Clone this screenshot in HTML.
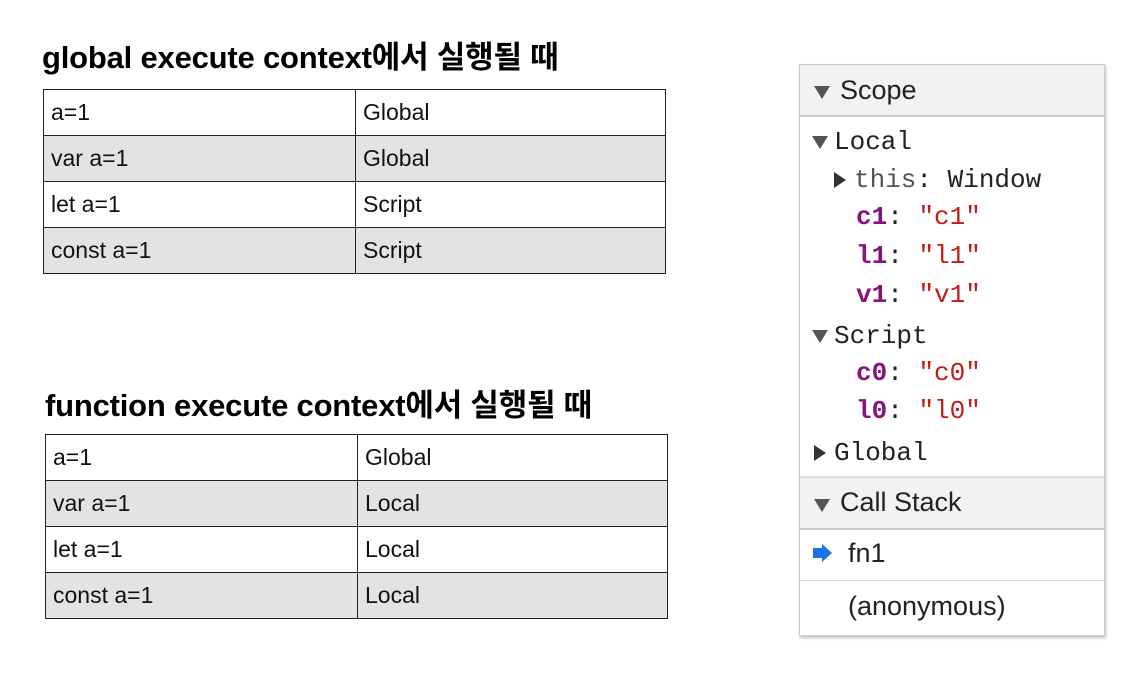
<!DOCTYPE html>
<html><head><meta charset="utf-8"><style>
body{margin:0;width:1132px;height:681px;background:#fff;position:relative;overflow:hidden;font-family:"Liberation Sans","Noto Sans CJK KR",sans-serif;}
.t{position:absolute;font-weight:bold;font-size:31px;color:#000;white-space:nowrap;letter-spacing:-0.2px}
table{position:absolute;border-collapse:collapse;font-size:23px;height:185px}
td{border:1.5px solid #222;padding:0 0 0 7px;color:#111}
tr{height:46px}
tr.g td{background:#e2e3e5}
.p{position:absolute;left:799px;top:64px;width:304px;height:570px;border:1px solid #ccc;box-shadow:1px 2px 3px rgba(0,0,0,.25);background:#fff}
.h{position:absolute;left:0;width:304px;height:50px;background:#f1f2f3;border-bottom:2px solid #ccc;font-size:27px;color:#222}
.m{position:absolute;font-family:"Liberation Mono",monospace;font-size:26px;color:#222;white-space:nowrap;font-weight:500}
.k{color:#881280;font-weight:bold}.s{color:#c41a16}
.tri{display:inline-block;width:0;height:0;border-left:8px solid transparent;border-right:8px solid transparent;border-top:13px solid #555;vertical-align:middle;margin-right:6px}
.tr{display:inline-block;width:0;height:0;border-top:8px solid transparent;border-bottom:8px solid transparent;border-left:12px solid #333;vertical-align:middle;margin-right:8px}
</style></head><body>
<div class="t" style="left:42px;top:32px">global execute context에서 실행될 때</div>
<table style="left:43px;top:89px;width:623px">
<tr><td style="width:304px">a=1</td><td>Global</td></tr>
<tr class="g"><td>var a=1</td><td>Global</td></tr>
<tr><td>let a=1</td><td>Script</td></tr>
<tr class="g"><td>const a=1</td><td>Script</td></tr>
</table>
<div class="t" style="left:45px;top:380px">function execute context에서 실행될 때</div>
<table style="left:45px;top:434px;width:623px">
<tr><td style="width:304px">a=1</td><td>Global</td></tr>
<tr class="g"><td>var a=1</td><td>Local</td></tr>
<tr><td>let a=1</td><td>Local</td></tr>
<tr class="g"><td>const a=1</td><td>Local</td></tr>
</table>
<div class="p">
<div class="h" style="top:0"><span class="tri" style="position:absolute;left:14px;top:21px"></span><span style="position:absolute;left:40px;top:10px">Scope</span></div>
<div class="m" style="left:12px;top:62px"><span class="tri"></span>Local</div>
<div class="m" style="left:34px;top:100px"><span class="tr"></span><span style="color:#555">this</span>: Window</div>
<div class="m" style="left:56px;top:137px"><span class="k">c1</span>: <span class="s">"c1"</span></div>
<div class="m" style="left:56px;top:176px"><span class="k">l1</span>: <span class="s">"l1"</span></div>
<div class="m" style="left:56px;top:215px"><span class="k">v1</span>: <span class="s">"v1"</span></div>
<div class="m" style="left:12px;top:256px"><span class="tri"></span>Script</div>
<div class="m" style="left:14px;top:373px"><span class="tr"></span>Global</div>
<div class="m" style="left:56px;top:293px"><span class="k">c0</span>: <span class="s">"c0"</span></div>
<div class="m" style="left:56px;top:331px"><span class="k">l0</span>: <span class="s">"l0"</span></div>
<div class="h" style="top:411px;border-top:2px solid #ddd"><span class="tri" style="position:absolute;left:14px;top:21px"></span><span style="position:absolute;left:40px;top:9px">Call Stack</span></div>
<div style="position:absolute;left:13px;top:483px;width:9px;height:10px;background:#1a73e8"></div>
<div style="position:absolute;left:22px;top:479px;width:0;height:0;border-top:9px solid transparent;border-bottom:9px solid transparent;border-left:10px solid #1a73e8"></div>
<div style="position:absolute;left:48px;top:473px;font-size:27px;color:#222">fn1</div>
<div style="position:absolute;left:0;top:515px;width:304px;border-top:1px solid #ddd"></div>
<div style="position:absolute;left:48px;top:526px;font-size:27px;color:#222">(anonymous)</div>
</div>
</body></html>
